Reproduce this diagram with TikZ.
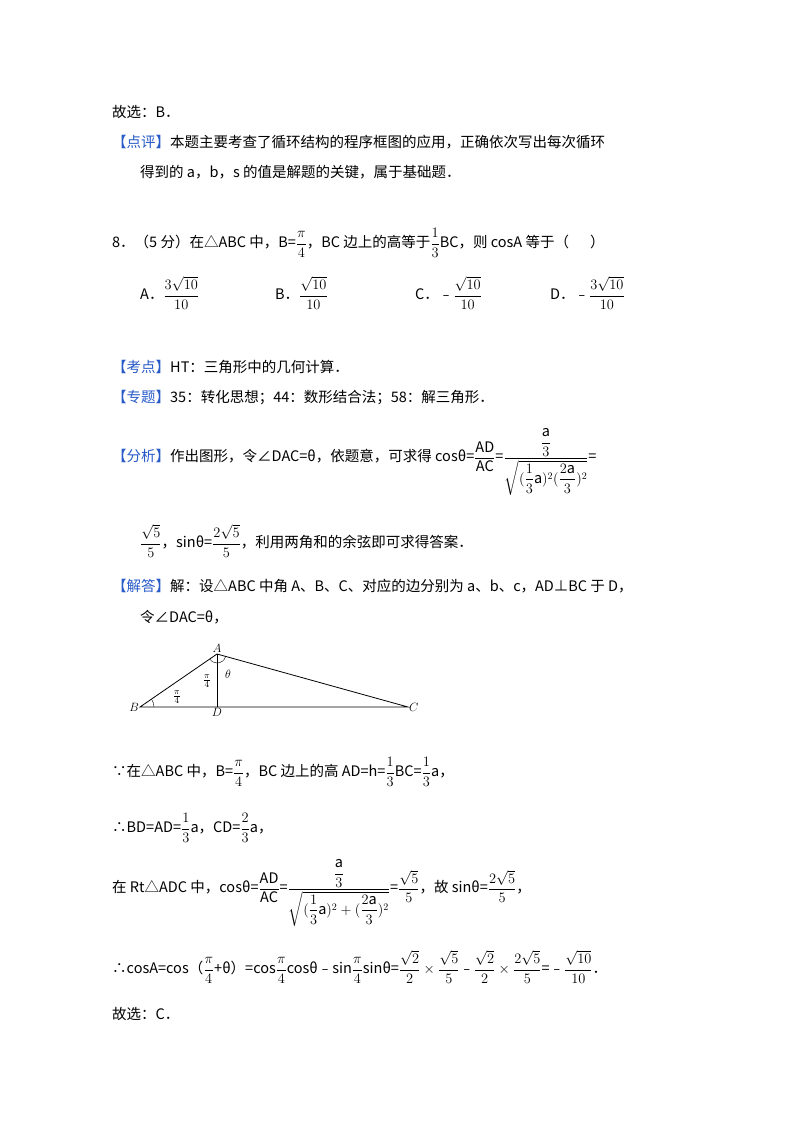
\documentclass[tikz,border=0pt]{standalone}
\usepackage{amsmath}
\usepackage{fontspec}
\setmainfont{Noto Sans CJK SC}
\usetikzlibrary{calc,angles}
\definecolor{lblue}{RGB}{40,90,200}
\newcommand{\lab}[1]{{\color{lblue}【#1】}}
\begin{document}
\begin{tikzpicture}[x=1pt,y=-1pt,
  ln/.style={anchor=west,inner sep=0pt,font=\fontsize{14.5}{18}\selectfont},
  tl/.style={font=\fontsize{13}{14}\selectfont,inner sep=1pt}]
\useasboundingbox[fill=white] (0,0) rectangle (800,1132);
\node[ln] (l1) at (112,112) {故选：B．};
\node[ln] (l2) at (112,142) {\lab{点评}本题主要考查了循环结构的程序框图的应用，正确依次写出每次循环};
\node[ln] (l3) at (140,172) {得到的 a，b，s 的值是解题的关键，属于基础题．};
\node[ln] (l4) at (112,243) {8．（5 分）在△ABC 中，B=$\dfrac{\pi}{4}$，BC 边上的高等于$\dfrac{1}{3}$BC，则 cosA 等于（\quad\ \ ）};
\node[ln] (oa) at (140,293) {A．$\dfrac{3\sqrt{10}}{10}$};
\node[ln] (ob) at (275,293) {B．$\dfrac{\sqrt{10}}{10}$};
\node[ln] (oc) at (415,293) {C．﹣$\dfrac{\sqrt{10}}{10}$};
\node[ln] (od) at (550,293) {D．﹣$\dfrac{3\sqrt{10}}{10}$};
\node[ln] (kd) at (112,367) {\lab{考点}HT：三角形中的几何计算．};
\node[ln] (zt) at (112,398) {\lab{专题}35：转化思想；44：数形结合法；58：解三角形．};
\node[ln] (fx) at (112,462) {\lab{分析}作出图形，令∠DAC=θ，依题意，可求得 cosθ=$\dfrac{\mathrm{AD}}{\mathrm{AC}}$=$\dfrac{\dfrac{\mathrm{a}}{3}}{\sqrt{(\dfrac{1}{3}\mathrm{a})^2(\dfrac{2\mathrm{a}}{3})^2}}$=};
\node[ln] (f2) at (140,541) {$\dfrac{\sqrt5}{5}$，sinθ=$\dfrac{2\sqrt5}{5}$，利用两角和的余弦即可求得答案．};
\node[ln] (jd) at (112,586) {\lab{解答}解：设△ABC 中角 A、B、C、对应的边分别为 a、b、c，AD⊥BC 于 D，};
\node[ln] (jd2) at (140,617) {令∠DAC=θ，};
% triangle
\coordinate (A) at (217,654);
\coordinate (B) at (140,707);
\coordinate (D) at (217,707);
\coordinate (C) at (408,707);
\draw[line width=0.8pt] (A)--(B)--(C)--cycle;
\draw[line width=1pt] (A)--(D);
\pic[draw,angle radius=14pt]{angle=D--B--A};
\pic[draw,angle radius=9pt]{angle=B--A--D};
\pic[draw,angle radius=9pt]{angle=D--A--C};
\node[tl,above] (nA) at (A) {$A$};
\node[tl,left] (nB) at (B) {$B$};
\node[tl,below] (nD) at (D) {$D$};
\node[tl,right] (nC) at (C) {$C$};
\node[tl] (p1) at (177,697) {$\frac{\pi}{4}$};
\node[tl] (p2) at (207,681) {$\frac{\pi}{4}$};
\node[tl] (th) at (228,674) {$\theta$};
\node[ln] (s1) at (112,772) {∵在△ABC 中，B=$\dfrac{\pi}{4}$，BC 边上的高 AD=h=$\dfrac13$BC=$\dfrac13$a，};
\node[ln] (s2) at (112,828) {∴BD=AD=$\dfrac13$a，CD=$\dfrac23$a，};
\node[ln] (s3) at (112,893) {在 Rt△ADC 中，cosθ=$\dfrac{\mathrm{AD}}{\mathrm{AC}}$=$\dfrac{\dfrac{\mathrm{a}}{3}}{\sqrt{(\dfrac{1}{3}\mathrm{a})^2+(\dfrac{2\mathrm{a}}{3})^2}}$=$\dfrac{\sqrt5}{5}$，故 sinθ=$\dfrac{2\sqrt5}{5}$，};
\node[ln] (s4) at (112,967) {∴cosA=cos（$\dfrac{\pi}{4}$+θ）=cos$\dfrac{\pi}{4}$cosθ﹣sin$\dfrac{\pi}{4}$sinθ=$\dfrac{\sqrt2}{2}\times\dfrac{\sqrt5}{5}$﹣$\dfrac{\sqrt2}{2}\times\dfrac{2\sqrt5}{5}$=﹣$\dfrac{\sqrt{10}}{10}$．};
\node[ln] (s5) at (112,1014) {故选：C．};
\end{tikzpicture}
\end{document}
